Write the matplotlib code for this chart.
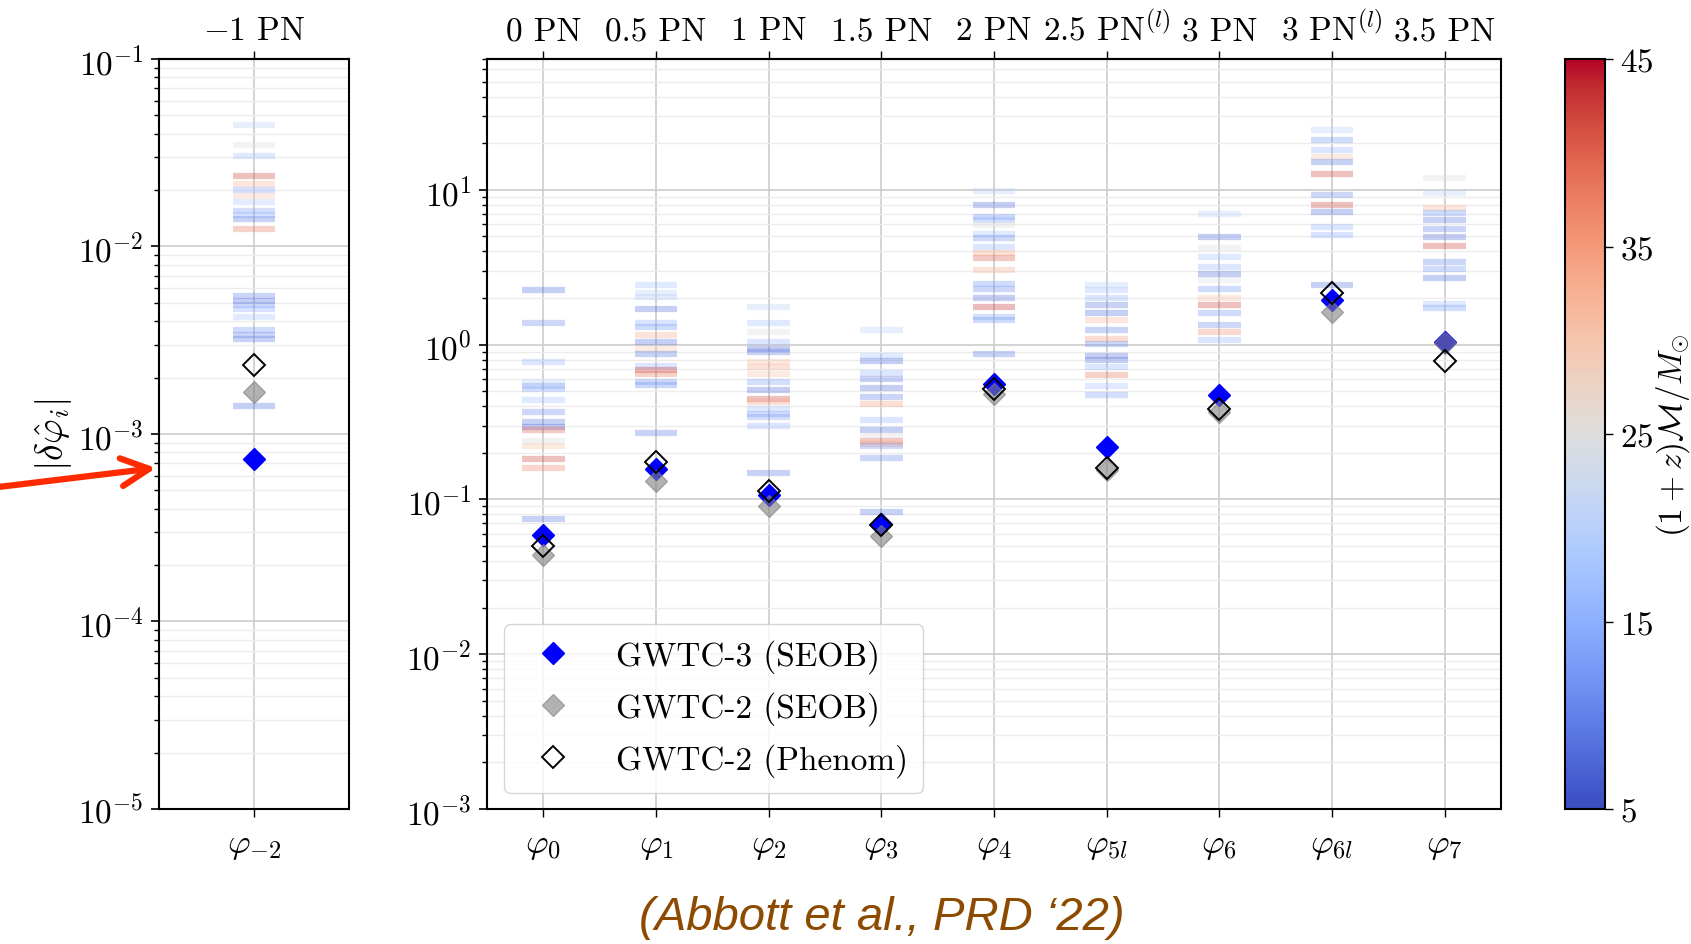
import matplotlib
matplotlib.use("Agg")
import matplotlib.pyplot as plt
import numpy as np
from matplotlib import cm, colors
from matplotlib.lines import Line2D

plt.rcParams['font.family'] = ['cmr10']
plt.rcParams['mathtext.fontset'] = 'cm'
plt.rcParams['axes.formatter.use_mathtext'] = True

# labels
pn_left = [r'$-1$ PN']
phi_left = [r'$\varphi_{-2}$']
pn_main = ['0 PN', '0.5 PN', '1 PN', '1.5 PN', '2 PN', r'2.5 PN$^{(l)}$',
           '3 PN', r'3 PN$^{(l)}$', '3.5 PN']
phi_main = [r'$\varphi_0$', r'$\varphi_1$', r'$\varphi_2$', r'$\varphi_3$',
            r'$\varphi_4$', r'$\varphi_{5l}$', r'$\varphi_6$',
            r'$\varphi_{6l}$', r'$\varphi_7$']

# single-event 90% bounds and detector-frame chirp masses
bounds_m2 = [0.0447, 0.0349, 0.0305, 0.0239, 0.0216, 0.0201, 0.0187, 0.0172,
             0.0155, 0.0147, 0.0140, 0.0124, 0.00547, 0.00514, 0.00488,
             0.00464, 0.00419, 0.0036, 0.00337, 0.00321, 0.00141]
mass_m2 = [20, 25, 17, 42, 32, 14, 30, 19, 13, 15, 9, 38, 10, 8, 12, 14, 18,
           12, 10, 9, 8]

bounds_0 = [2.25, 1.37, 0.77, 0.57, 0.54, 0.52, 0.436, 0.367, 0.316, 0.293,
            0.279, 0.24, 0.22, 0.183, 0.16, 0.075]
mass_0 = [8, 11, 16, 20, 12, 14, 17, 11, 9, 7, 40, 25, 31, 42, 37, 9]
bounds_1 = [2.44, 2.17, 2.04, 1.69, 1.38, 1.29, 1.15, 1.04, 0.94, 0.865,
            0.73, 0.69, 0.65, 0.57, 0.545, 0.267]
mass_1 = [17, 20, 19, 8, 15, 12, 33, 8, 30, 9, 16, 43, 38, 12, 11, 9]
bounds_2 = [1.75, 1.37, 1.21, 1.04, 0.93, 0.89, 0.77, 0.72, 0.65, 0.57,
            0.506, 0.447, 0.425, 0.385, 0.354, 0.34, 0.30, 0.148]
mass_2 = [20, 17, 25, 16, 7, 9, 31, 33, 30, 13, 8, 42, 34, 17, 12, 13, 16, 9]
bounds_3 = [1.25, 0.84, 0.78, 0.66, 0.60, 0.525, 0.458, 0.415, 0.324, 0.282,
            0.259, 0.24, 0.229, 0.22, 0.185, 0.083]
mass_3 = [20, 17, 8, 16, 9, 8, 10, 34, 16, 8, 25, 40, 35, 12, 11, 9]
bounds_4 = [9.8, 7.97, 6.7, 6.38, 5.9, 5.2, 4.85, 4.29, 3.88, 3.6, 3.03, 2.48,
            2.3, 1.99, 1.75, 1.51, 1.44, 0.865]
mass_4 = [20, 8, 12, 14, 25, 17, 11, 16, 34, 40, 33, 12, 11, 8, 43, 13, 12, 9]
bounds_5 = [2.42, 2.25, 1.99, 1.80, 1.59, 1.44, 1.24, 1.09, 1.01, 0.85, 0.79,
            0.72, 0.634, 0.54, 0.47]
mass_5 = [20, 17, 16, 9, 8, 32, 10, 35, 11, 8, 9, 16, 38, 17, 13]
bounds_6 = [6.94, 4.98, 4.18, 3.7, 3.19, 2.84, 2.61, 2.3, 1.99, 1.80, 1.59,
            1.33, 1.21, 1.07]
mass_6 = [20, 8, 25, 17, 16, 8, 24, 12, 31, 42, 12, 11, 36, 16]
bounds_7 = [24.4, 21, 18.1, 16.4, 15.2, 12.6, 9.25, 7.97, 7.2, 5.78, 5.1,
            2.44]
mass_7 = [20, 12, 16, 30, 9, 42, 11, 42, 8, 16, 14, 9]
bounds_8 = [12, 9.6, 7.6, 7.05, 6.38, 5.57, 4.98, 4.35, 3.43, 3.1, 2.71, 1.84,
            1.73]
mass_8 = [25, 20, 32, 12, 9, 10, 8, 42, 11, 12, 8, 17, 13]

bounds_main = [bounds_0, bounds_1, bounds_2, bounds_3, bounds_4, bounds_5,
               bounds_6, bounds_7, bounds_8]
mass_main = [mass_0, mass_1, mass_2, mass_3, mass_4, mass_5, mass_6, mass_7,
             mass_8]

# combined bounds (first value is phi_-2, then phi_0 ... phi_7)
gwtc3_seob = [0.00074, 0.059, 0.157, 0.106, 0.069, 0.56, 0.218, 0.47, 1.95, 1.04]
gwtc2_seob = [0.00167, 0.044, 0.132, 0.091, 0.058, 0.48, 0.154, 0.367, 1.63, 1.02]
gwtc2_phenom = [0.00233, 0.050, 0.174, 0.113, 0.068, 0.52, 0.16, 0.385, 2.14, 0.78]

cmap = cm.coolwarm
norm = colors.Normalize(vmin=5, vmax=45)

fig = plt.figure(figsize=(16.91, 9.45), dpi=100)
W, H = 1691, 945
ax_l = fig.add_axes([159 / W, 1 - 810 / H, 190 / W, 750 / H])
ax_m = fig.add_axes([487 / W, 1 - 810 / H, 1014 / W, 750 / H])
cax = fig.add_axes([1565 / W, 1 - 810 / H, 40 / W, 750 / H])

fs = 24
bar_lw = 4.5
bar_alpha = 0.33


def draw_markers(ax, x, i):
    ax.plot(x, gwtc3_seob[i], 'D', color='blue', ms=11, zorder=5)
    ax.plot(x, gwtc2_seob[i], 'D', color='gray', alpha=0.6, ms=11, zorder=6)
    ax.plot(x, gwtc2_phenom[i], 'D', mfc='none', mec='k', mew=1.4, ms=11,
            zorder=7)


def style(ax, top_labels, bottom_labels):
    ax.set_yscale('log')
    ax.grid(which='major', axis='y', color='#cccccc', lw=1.2, zorder=0)
    ax.grid(which='minor', axis='y', color='#ececec', lw=1.0, zorder=0)
    ax.grid(which='major', axis='x', color='#cccccc', lw=1.2, zorder=0)
    ax.set_axisbelow(True)
    n = len(bottom_labels)
    ax.set_xticks(range(n))
    ax.set_xticklabels(bottom_labels, fontsize=25)
    ax.set_xlim(-0.5, n - 0.5)
    ax.tick_params(axis='x', which='major', length=6, width=1, pad=9)
    ax.tick_params(axis='y', which='major', length=6, width=1.2, pad=5,
                   labelsize=fs)
    ax.tick_params(axis='y', which='minor', length=3.5, width=1)
    for s in ax.spines.values():
        s.set_linewidth(1.5)
    sec = ax.secondary_xaxis('top')
    sec.set_xticks(range(n))
    sec.set_xticklabels(top_labels, fontsize=fs)
    sec.tick_params(length=6, width=1, pad=4)
    sec.spines['top'].set_linewidth(1.5)


# left panel
ax_l.hlines(bounds_m2, -0.112, 0.112, colors=cmap(norm(mass_m2)), lw=bar_lw,
            alpha=bar_alpha, zorder=2)
draw_markers(ax_l, 0, 0)
style(ax_l, pn_left, phi_left)
ax_l.set_ylim(1e-5, 1e-1)
ax_l.set_ylabel(r'$|\delta\hat{\varphi}_i|$', fontsize=27, labelpad=3)

# main panel
for k, (b, m) in enumerate(zip(bounds_main, mass_main)):
    ax_m.hlines(b, k - 0.19, k + 0.19, colors=cmap(norm(m)), lw=bar_lw,
                alpha=bar_alpha, zorder=2)
    draw_markers(ax_m, k, k + 1)
style(ax_m, pn_main, phi_main)
ax_m.set_ylim(1e-3, 70)

handles = [
    Line2D([], [], ls='none', marker='D', color='blue', ms=11),
    Line2D([], [], ls='none', marker='D', color='gray', alpha=0.6, ms=11),
    Line2D([], [], ls='none', marker='D', mfc='none', mec='k', mew=1.4, ms=11),
]
ax_m.legend(handles, ['GWTC-3 (SEOB)', 'GWTC-2 (SEOB)', 'GWTC-2 (Phenom)'],
            loc='lower left', bbox_to_anchor=(0.017, 0.022), borderaxespad=0,
            fontsize=24, handletextpad=0.9, labelspacing=0.55, framealpha=0.8,
            borderpad=0.45)

# colorbar
sm = cm.ScalarMappable(norm=norm, cmap=cmap)
cb = fig.colorbar(sm, cax=cax, ticks=[5, 15, 25, 35, 45])
cb.ax.tick_params(labelsize=fs, length=6, width=1, pad=5)
cb.outline.set_linewidth(1.5)
cb.set_label(r'$(1+z)\mathcal{M}/M_{\odot}$', fontsize=fs, labelpad=0)

# annotation arrow and citation
ax_l.annotate('', xy=(156, H - 469), xycoords='figure pixels',
              xytext=(-10, H - 489), textcoords='figure pixels',
              arrowprops=dict(arrowstyle='->', color='#ff2a00', lw=4.5,
                              mutation_scale=50, shrinkA=0, shrinkB=0),
              annotation_clip=False)
fig.text(0.5215, 1 - 918 / H, "(Abbott et al., PRD \u201822)", ha='center',
         va='center', fontsize=34, color='#8c4b00', style='italic',
         family='Liberation Sans')

fig.savefig('out.png', dpi=100)
